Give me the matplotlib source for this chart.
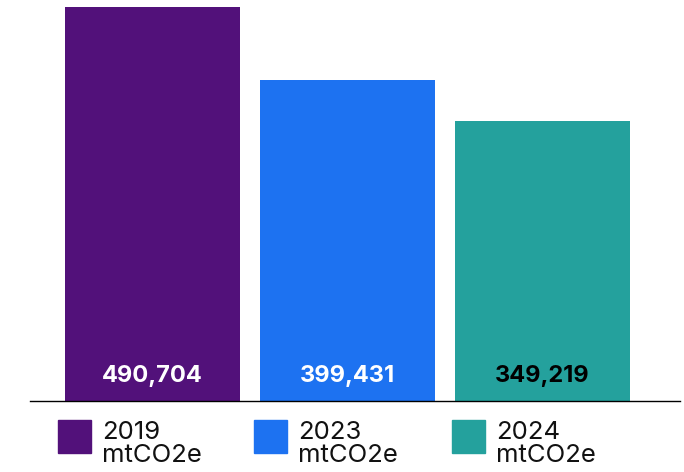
"""Emissions by year: three bars with values printed inside the base."""

import matplotlib

matplotlib.use("Agg")

import matplotlib.pyplot as plt  # noqa: E402
from matplotlib.patches import Rectangle  # noqa: E402

plt.rcParams["font.family"] = ["Inter", "DejaVu Sans"]

years = ["2019", "2023", "2024"]
unit = "mtCO2e"
emissions = [490704, 399431, 349219]
colors = ["#52117a", "#1d72f1", "#24a19d"]
label_colors = ["white", "white", "black"]

W, H = 684, 472
fig = plt.figure(figsize=(W / 100, H / 100), dpi=100)
fig.patch.set_facecolor("white")

# axes spans x 30..680 px, baseline at y=401, tallest bar top at y=7
ax = fig.add_axes([30 / W, (H - 401) / H, 650 / W, (401 - 7) / H])
xs = range(len(years))
ax.bar(xs, emissions, width=175 / 195, color=colors, zorder=2)
ax.set_xlim(-122.5 / 195, 2 + 137.5 / 195)
ax.set_ylim(0, max(emissions))

for x, v, c in zip(xs, emissions, label_colors):
    ax.annotate(f"{v:,}", (x, 0), xytext=(0, 25), textcoords="offset pixels",
                ha="center", va="center", fontsize=17, fontweight="bold",
                color=c, zorder=3)

for side in ("top", "right", "left"):
    ax.spines[side].set_visible(False)
ax.spines["bottom"].set_color("black")
ax.spines["bottom"].set_linewidth(1)
ax.spines["bottom"].set_zorder(4)
ax.set_xticks([])
ax.set_yticks([])
ax.patch.set_alpha(0)

# Legend drawn by hand: square + two-line label
legend_x = [58, 254, 452]
for lx, year, col in zip(legend_x, years, colors):
    fig.add_artist(Rectangle((lx / W, (H - 453) / H), 33 / W, 33 / H,
                             transform=fig.transFigure, color=col))
    fig.text((lx + 44) / W, (H - 421) / H, f"{year}\n{unit}", ha="left",
             va="top", fontsize=18.5, linespacing=1.0, color="#111111")

fig.savefig("out.png", dpi=100, facecolor="white")
